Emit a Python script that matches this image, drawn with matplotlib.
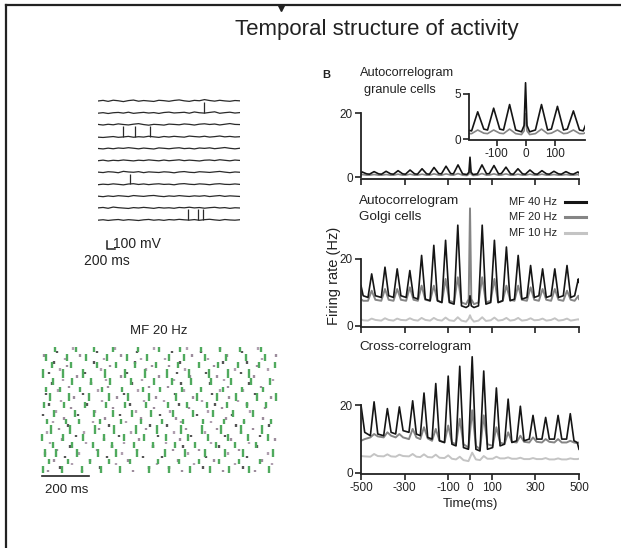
import numpy as np
import matplotlib.pyplot as plt
from matplotlib.lines import Line2D

plt.rcParams["font.family"] = ["Liberation Sans", "DejaVu Sans"]
plt.rcParams["axes.unicode_minus"] = False

W, H = 621, 548

# ---------------- data ----------------
# membrane potential traces (mV deviation, one sample every 125 ms)
trace_t = np.linspace(0, 3500, 29)
traces = [
    [0, 8, -5, 10, 3, -8, 5, 12, -3, 6, 0, -6, 9, 4, -4, 7, 14, 2, -5, 8, 3, 18, 6, -2, 9, 1, -4, 6, 2],
    [-4, 3, -8, 2, 6, -3, 9, -6, 1, 7, -2, 4, -7, 5, 10, -1, 3, 8, -4, 12, 2, -3, 6, 14, -5, 3, 9, -2, 4],
    [5, -3, 7, 0, 12, 4, -2, 8, 15, 3, -5, 6, 2, -4, 9, 5, 0, 11, 6, -3, 8, 13, 4, 10, -2, 7, 16, 5, 3],
    [-6, -10, -4, 2, -8, -3, 4, -7, 0, -5, 6, -2, -9, 3, -4, 5, -1, -6, 8, 2, -3, 6, -5, 1, 9, -2, 4, -4, 0],
    [2, -4, 6, -2, 8, 3, 12, 5, -3, 7, 1, -5, 9, 4, -2, 6, 11, 0, 5, -4, 8, 3, 10, -1, 6, 14, 4, -3, 5],
    [-3, 5, -6, 3, -2, 7, 1, -5, 4, -1, 8, 2, -4, 6, -3, 3, 9, -2, 5, 0, -6, 4, 7, -1, 10, 3, -4, 6, 1],
    [4, -2, 9, 5, -4, 14, 6, 2, 10, -3, 7, 3, -1, 8, 4, -5, 6, 11, 2, -2, 9, 5, 0, 7, 13, 4, -3, 6, 2],
    [-5, 2, -3, 6, 0, -7, 4, 8, -2, 5, -4, 3, 7, -1, 2, -6, 5, 9, 1, -3, 6, 2, -5, 4, 8, 0, -2, 5, -1],
    [1, -6, 4, -3, 7, 2, -4, 9, 3, -2, 6, 10, 1, -5, 4, -1, 8, 2, -3, 5, 0, 7, -4, 3, 9, -2, 5, 1, -3],
    [3, 9, -2, 14, 6, 1, -4, 7, 2, 10, 4, -3, 8, 1, 5, -2, 9, 4, 12, 3, 8, -1, 6, 11, 2, 7, -3, 5, 2],
    [-2, 4, -5, 2, 7, -3, 5, 0, -6, 3, 8, -2, 4, -4, 6, 1, 9, 3, -1, 6, -3, 5, 10, 2, -4, 7, 1, -2, 4],
]
spike_trace = [1, 3, 3, 3, 7, 10, 10, 10]
spike_time = [2610, 615, 910, 1280, 790, 2215, 2460, 2585]

# raster, MF 20 Hz (spike times in ms)
golgi_spikes = [
    [15, 95, 180, 262, 345, 470, 560, 648, 735, 820, 905, 990],
    [40, 120, 215, 300, 388, 512, 600, 690, 775, 862, 950],
    [22, 70, 160, 250, 330, 420, 540, 628, 712, 800, 880, 1010],
    [55, 140, 228, 310, 405, 490, 585, 670, 760, 845, 935],
    [10, 98, 188, 275, 362, 450, 545, 640, 725, 812, 900, 985],
    [48, 130, 240, 322, 415, 505, 610, 700, 785, 870, 960],
    [30, 112, 170, 258, 350, 438, 530, 620, 705, 795, 885, 1000],
    [62, 150, 235, 318, 398, 480, 575, 660, 748, 835, 920],
    [18, 105, 195, 285, 370, 460, 552, 635, 722, 810, 895, 980],
    [45, 125, 210, 300, 380, 470, 590, 680, 765, 850, 940, 1020],
    [28, 88, 175, 268, 355, 445, 520, 615, 698, 790, 875, 965],
    [58, 140, 222, 305, 392, 495, 570, 655, 740, 828, 912, 995],
    [12, 100, 185, 280, 368, 455, 548, 645, 730, 815, 905],
    [50, 135, 248, 330, 410, 500, 598, 688, 770, 858, 948, 1015],
    [25, 115, 200, 290, 375, 465, 560, 625, 715, 805, 890, 975],
    [65, 155, 232, 315, 425, 515, 605, 695, 780, 865, 955],
]
granule_spikes = [
    [35, 180, 402, 615, 790, 930], [88, 260, 470, 560, 705, 880],
    [140, 330, 505, 668, 842, 1005], [60, 215, 380, 598, 752, 960],
    [110, 290, 445, 530, 720, 895], [20, 170, 355, 640, 812, 985],
    [75, 245, 420, 575, 690, 860], [130, 310, 488, 620, 775, 940],
    [45, 200, 365, 545, 738, 905], [95, 275, 430, 605, 828, 1015],
    [155, 340, 510, 655, 800, 950], [30, 190, 395, 580, 712, 870],
    [82, 255, 460, 630, 765, 920], [120, 300, 478, 548, 850, 990],
    [58, 228, 372, 610, 742, 885], [105, 280, 438, 590, 805, 965],
    [15, 165, 345, 520, 680, 832], [70, 240, 415, 562, 725, 910],
    [135, 318, 492, 645, 788, 975], [40, 205, 388, 600, 758, 895],
    [92, 268, 452, 535, 700, 858], [148, 335, 500, 662, 820, 1000],
    [25, 185, 362, 585, 745, 930], [78, 250, 425, 622, 778, 880],
    [125, 295, 470, 555, 815, 955], [52, 220, 398, 612, 735, 905],
    [100, 285, 442, 578, 795, 1010], [160, 350, 515, 650, 768, 925],
    [38, 195, 378, 595, 718, 868], [86, 262, 458, 628, 842, 985],
    [118, 305, 485, 560, 752, 940], [62, 232, 410, 605, 790, 898],
    [108, 278, 435, 540, 728, 962], [18, 175, 352, 658, 808, 1020],
    [72, 248, 418, 572, 695, 875], [142, 325, 495, 638, 780, 945],
]

# autocorrelogram granule cells (Hz)
t_gran = [-500, -495, -474, -461, -440, -419, -406, -385, -364, -351, -330, -309, -296,
          -275, -254, -241, -220, -199, -186, -165, -144, -131, -110, -89, -76, -55, -34,
          -14, -5, 0, 5, 14, 34, 55, 76, 89, 110, 131, 144, 165, 186, 199, 220, 241, 254,
          275, 296, 309, 330, 351, 364, 385, 406, 419, 440, 461, 474, 495, 500]
gran_40 = [1.2, 1.6, 1.0, 0.9, 1.7, 1.0, 0.9, 1.8, 1.0, 0.9, 2.0, 1.0, 0.9,
           2.2, 1.0, 0.9, 2.6, 1.0, 0.9, 3.0, 1.1, 1.0, 3.4, 1.1, 1.0, 3.8, 1.0,
           0.8, 1.5, 6.2, 1.5, 0.8, 1.0, 3.8, 1.0, 1.1, 3.6, 1.0, 1.1, 3.1, 1.0, 0.9, 2.6, 1.0, 0.9,
           2.2, 1.0, 0.9, 2.0, 1.0, 0.9, 1.8, 1.0, 0.9, 1.7, 1.0, 0.9, 1.6, 1.3]
gran_20 = [0.6, 0.8, 0.6, 0.6, 0.8, 0.6, 0.6, 0.8, 0.6, 0.6, 0.9, 0.6, 0.6,
           0.9, 0.6, 0.6, 0.9, 0.6, 0.6, 1.0, 0.65, 0.6, 1.0, 0.65, 0.6, 1.1, 0.6,
           0.5, 0.9, 2.8, 0.9, 0.5, 0.6, 1.1, 0.6, 0.65, 1.0, 0.6, 0.65, 1.0, 0.6, 0.6, 0.9, 0.6, 0.6,
           0.9, 0.6, 0.6, 0.9, 0.6, 0.6, 0.8, 0.6, 0.6, 0.8, 0.6, 0.6, 0.8, 0.6]

# autocorrelogram Golgi cells (Hz)
t_golgi = [-500, -490, -468, -451, -434, -407, -390, -373, -351, -334, -317, -293, -276,
           -259, -239, -222, -205, -183, -166, -149, -129, -112, -95, -73, -56, -39, -18,
           -6, 0, 6, 18, 39, 56, 73, 95, 112, 129, 150, 167, 184, 204, 221, 238, 261, 278,
           295, 316, 333, 350, 372, 389, 406, 428, 445, 462, 480, 497, 500]
golgi_40 = [12, 9, 8.5, 15.5, 9, 8.5, 17.5, 9, 8.5, 17, 9, 8.5, 16.5,
            8.5, 8, 21, 8, 7.5, 24, 7.5, 7, 25.5, 7, 6.5, 30, 6, 5.5,
            6, 9, 6, 5.5, 6, 30, 6.5, 7, 25.5, 7, 7.5, 23.5, 7.5, 8, 21, 8, 8.5, 18,
            8.5, 9, 17, 8.5, 9, 17, 8.5, 9, 18, 8.5, 9, 14, 13]
golgi_20 = [8, 7.5, 7.5, 10.5, 7.8, 7.5, 11, 7.8, 7.5, 11, 7.8, 7.5, 11.5,
            7.8, 7.5, 12, 7.8, 7.5, 12, 7.5, 7, 14, 7.5, 7, 14.5, 7, 6.5,
            8, 35, 8, 6.5, 7, 14.5, 7, 7.5, 14, 7, 7.5, 12, 7.8, 7.5, 12, 7.8, 7.5, 11.5,
            7.8, 7.5, 11, 7.8, 7.5, 11, 7.8, 7.5, 10.5, 7.8, 7.5, 9, 8]
golgi_10 = [2, 1.7, 1.6, 2.2, 1.8, 1.6, 2.3, 1.8, 1.6, 2.2, 1.8, 1.7, 2.3,
            1.8, 1.6, 2.4, 1.8, 1.6, 2.4, 1.8, 1.6, 2.5, 1.7, 1.5, 2.6, 1.6, 1.3,
            2.2, 3.2, 2.2, 1.3, 1.6, 2.6, 1.5, 1.7, 2.5, 1.6, 1.8, 2.4, 1.6, 1.8, 2.4, 1.6, 1.8, 2.3,
            1.7, 1.8, 2.2, 1.6, 1.8, 2.3, 1.6, 1.8, 2.2, 1.6, 1.8, 2.0, 1.9]

# cross-correlogram (Hz)
t_cross = [-500, -483, -457, -440, -423, -396, -379, -362, -341, -324, -307, -280, -263,
           -246, -228, -211, -194, -174, -157, -140, -117, -100, -83, -64, -47, -30, -7,
           10, 27, 46, 63, 80, 104, 121, 138, 158, 175, 192, 214, 231, 248, 272, 289,
           306, 330, 347, 364, 387, 404, 421, 443, 460, 477, 492, 500]
cross_40 = [20, 12, 11, 21, 11.5, 11, 19, 12, 11.5, 19.5, 12.5, 12, 21.3,
            11.5, 11, 23.6, 10.5, 10, 26.4, 9.5, 9, 28.6, 8.5, 8, 31.5, 7.5, 7,
            34.3, 7, 6.5, 30.1, 7, 7.5, 25.1, 8, 8.5, 21.8, 9, 9.5, 19.7, 9.5, 10, 17,
            10, 10, 16.4, 10, 10, 17, 10, 10, 17.5, 9.5, 9, 7]
cross_20 = [9.5, 10, 10.5, 11.5, 10.8, 10.5, 12, 11, 10.5, 11.5, 10.5, 10, 13,
            10.5, 10, 13.5, 10.2, 9.5, 13, 9.5, 9, 14, 9, 8.5, 16, 8.5, 7.5,
            18.5, 8, 7, 17, 8.5, 8, 13.5, 9, 8.5, 12, 9.2, 9, 11, 9.2, 9, 10.5,
            9.2, 9, 10, 9.2, 9, 10, 9, 9, 9.5, 9, 8.8, 9]
cross_10 = [5, 4.9, 4.8, 5.6, 5.0, 4.9, 5.5, 4.9, 4.8, 5.4, 5.0, 4.9, 5.6,
            4.8, 4.7, 5.5, 4.7, 4.6, 5.4, 4.5, 4.4, 5.2, 4.2, 4.0, 4.8, 3.8, 3.5,
            6.0, 4.0, 3.8, 5.0, 4.2, 4.2, 4.8, 4.3, 4.3, 4.6, 4.2, 4.2, 4.5, 4.1, 4.1, 4.4,
            4.1, 4.1, 4.4, 4.0, 4.0, 4.3, 4.0, 4.0, 4.3, 4.1, 4.1, 4.2]

xticks = [-500, -300, -100, 0, 100, 300, 500]
colors = {"MF 40 Hz": "#151515", "MF 20 Hz": "#858585", "MF 10 Hz": "#c4c4c4"}


def box(x0, y0, x1, y1):
    return [x0 / W, 1 - y1 / H, (x1 - x0) / W, (y1 - y0) / H]


def fx(x):
    return x / W


def fy(y):
    return 1 - y / H


fig = plt.figure(figsize=(W / 100, H / 100), dpi=100)

# frame
fig.add_artist(Line2D([fx(6), 1], [fy(5), fy(5)], transform=fig.transFigure, color="#222", lw=1.6))
fig.add_artist(Line2D([fx(6), fx(6)], [0, fy(5)], transform=fig.transFigure, color="#222", lw=1.6))
fig.add_artist(Line2D([fx(281)], [fy(8)], transform=fig.transFigure, marker="v", ms=4, color="#222"))

fig.text(fx(377), fy(30), "Temporal structure of activity", fontsize=16, ha="center", va="center", color="#222")

# ---- traces ----
ax_tr = fig.add_axes(box(98, 88, 240, 252))
ax_tr.axis("off")
for i, tr in enumerate(traces):
    ax_tr.plot(trace_t, np.array(tr) - 155 * i, color="#2a2a2a", lw=0.9)
ax_tr.vlines(spike_time, [-155 * k for k in spike_trace], [-155 * k + 140 for k in spike_trace],
             color="#2a2a2a", lw=0.9)
ax_tr.plot([222, 222, 422], [-1827, -1927, -1927], color="#222", lw=1.1, clip_on=False)
ax_tr.set_xlim(0, 3500)
ax_tr.set_ylim(-1966, 169)
fig.text(fx(113), fy(244), "100 mV", fontsize=10, ha="left", va="center", color="#222")
fig.text(fx(107), fy(261), "200 ms", fontsize=10, ha="center", va="center", color="#222")

# ---- raster ----
ax_r = fig.add_axes(box(40, 343, 278, 473))
ax_r.axis("off")
gran_cols = ["#9c8c9c", "#555555", "#b0a0b0"]
ax_r.eventplot(granule_spikes, lineoffsets=[2 + 3.5 * i for i in range(len(granule_spikes))],
               linelengths=2.2, linewidths=1.7,
               colors=[gran_cols[i % 3] for i in range(len(granule_spikes))])
tick_len = [7, 5, 8, 6, 7, 9, 5, 7, 6, 8, 5, 7, 9, 6, 7, 5]
ax_r.eventplot(golgi_spikes, lineoffsets=[4 + 8 * i for i in range(len(golgi_spikes))],
               linelengths=tick_len, linewidths=1.7, colors="#50aa5e")
ax_r.plot([10, 210], [-3, -3], color="#222", lw=1.2, clip_on=False)
ax_r.set_xlim(0, 1030)
ax_r.set_ylim(0, 130)
fig.text(fx(159), fy(331), "MF 20 Hz", fontsize=9.5, ha="center", va="center", color="#222")
fig.text(fx(67), fy(490), "200 ms", fontsize=9.5, ha="center", va="center", color="#222")


# ---- correlograms ----
def style(ax, top, labels=False):
    for s in ["top", "right"]:
        ax.spines[s].set_visible(False)
    for s in ["left", "bottom"]:
        ax.spines[s].set_linewidth(1.3)
        ax.spines[s].set_color("#222")
    ax.spines["left"].set_bounds(0, top)
    ax.tick_params(direction="out", length=4, width=1.2, labelsize=8.5, pad=2, colors="#222")
    if not labels:
        ax.tick_params(axis="x", labelbottom=False)


ax1 = fig.add_axes(box(361, 113, 579, 179))
ax1.plot(t_gran, gran_20, color=colors["MF 20 Hz"], lw=1.2)
ax1.plot(t_gran, gran_40, color=colors["MF 40 Hz"], lw=1.2)
ax1.set_xlim(-500, 500)
ax1.set_ylim(-0.6, 20)
ax1.set_xticks(xticks)
ax1.set_yticks([0, 20])
style(ax1, 20)

ax_in = fig.add_axes(box(469, 80, 585, 140))
ax_in.patch.set_visible(False)
ax_in.plot(t_gran, gran_20, color=colors["MF 20 Hz"], lw=1.2)
ax_in.plot(t_gran, gran_40, color=colors["MF 40 Hz"], lw=1.2)
ax_in.set_xlim(-195, 205)
ax_in.set_ylim(-0.1, 6.5)
ax_in.set_xticks([-100, 0, 100])
ax_in.set_yticks([0, 5])
style(ax_in, 5, labels=True)

ax2 = fig.add_axes(box(361, 205, 579, 327))
ax2.plot(t_golgi, golgi_10, color=colors["MF 10 Hz"], lw=1.4)
ax2.plot(t_golgi, golgi_20, color=colors["MF 20 Hz"], lw=1.4)
ax2.plot(t_golgi, golgi_40, color=colors["MF 40 Hz"], lw=1.2)
ax2.set_xlim(-500, 500)
ax2.set_ylim(-0.3, 36)
ax2.set_xticks(xticks)
ax2.set_yticks([0, 20])
style(ax2, 20)

ax3 = fig.add_axes(box(361, 351, 579, 474))
ax3.plot(t_cross, cross_10, color=colors["MF 10 Hz"], lw=1.4)
ax3.plot(t_cross, cross_20, color=colors["MF 20 Hz"], lw=1.4)
ax3.plot(t_cross, cross_40, color=colors["MF 40 Hz"], lw=1.2)
ax3.set_xlim(-500, 500)
ax3.set_ylim(-0.3, 36)
ax3.set_xticks(xticks)
ax3.set_yticks([0, 20])
style(ax3, 20, labels=True)
ax3.set_xlabel("Time(ms)", fontsize=9.5, color="#222", labelpad=3)

fig.text(fx(334), fy(276), "Firing rate (Hz)", fontsize=10.5, rotation=90, ha="center", va="center", color="#222")

fig.text(fx(326), fy(75), "B", fontsize=8, weight="bold", ha="center", va="center", color="#222")
fig.text(fx(360), fy(73), "Autocorrelogram", fontsize=9.2, ha="left", va="center", color="#222")
fig.text(fx(364), fy(90), "granule cells", fontsize=9.2, ha="left", va="center", color="#222")
fig.text(fx(359), fy(201), "Autocorrelogram", fontsize=9.7, ha="left", va="center", color="#222")
fig.text(fx(359), fy(217), "Golgi cells", fontsize=9.7, ha="left", va="center", color="#222")
fig.text(fx(359), fy(347), "Cross-correlogram", fontsize=9.7, ha="left", va="center", color="#222")

# legend
for name, ly in zip(colors, [202, 217, 233]):
    fig.text(fx(557), fy(ly), name, fontsize=8, ha="right", va="center", color="#222")
    fig.add_artist(Line2D([fx(565), fx(586)], [fy(ly), fy(ly)], transform=fig.transFigure,
                          color=colors[name], lw=2.2))

fig.savefig("out.png", dpi=100)
